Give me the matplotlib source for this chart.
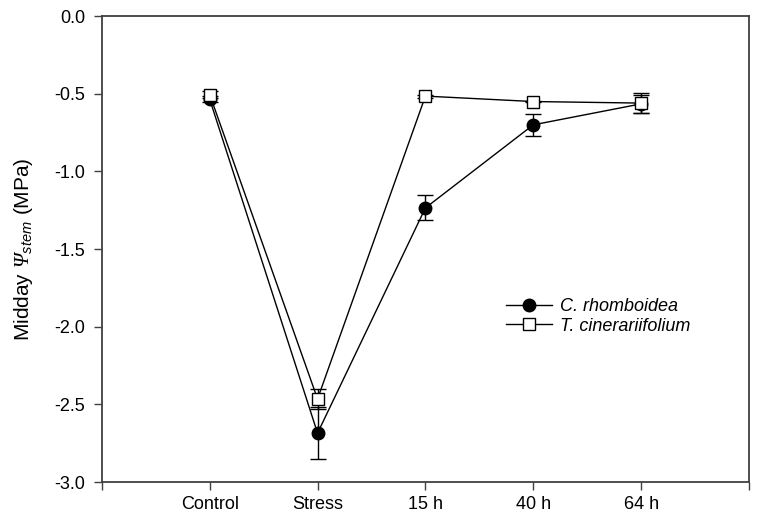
import matplotlib
matplotlib.use("Agg")
import matplotlib.pyplot as plt
from matplotlib.lines import Line2D

plt.rcParams["font.family"] = ["Liberation Sans", "DejaVu Sans"]
plt.rcParams["mathtext.fontset"] = "custom"
plt.rcParams["mathtext.rm"] = "Liberation Serif:italic"
plt.rcParams["mathtext.sf"] = "Liberation Sans:italic"

# data
categories = ["Control", "Stress", "15 h", "40 h", "64 h"]
positions = [1, 2, 3, 4, 5]

rhomb_mean = [-0.535, -2.685, -1.235, -0.70, -0.565]
rhomb_err = [0.02, 0.165, 0.08, 0.07, 0.06]

tcin_mean = [-0.505, -2.465, -0.515, -0.55, -0.56]
tcin_err = [0.025, 0.065, 0.01, 0.005, 0.065]

fig = plt.figure(figsize=(7.6, 5.2), dpi=100)
ax = fig.add_axes([0.134, 0.073, 0.8515, 0.896])

ax.errorbar(positions, rhomb_mean, yerr=rhomb_err, color="black", lw=1.0,
            marker="o", ms=9, mfc="black", mec="black", capsize=5.5,
            elinewidth=1.0, capthick=1.0, zorder=3)
ax.errorbar(positions, tcin_mean, yerr=tcin_err, color="black", lw=1.0,
            marker="s", ms=8, mfc="white", mec="black", mew=1.0,
            capsize=5.5, elinewidth=1.0, capthick=1.0, zorder=4)

ax.set_xlim(0, 6)
ax.set_ylim(-3.0, 0.0)
ax.set_xticks([0] + positions + [6])
ax.set_xticklabels([""] + categories + [""])
ax.set_yticks([0.0, -0.5, -1.0, -1.5, -2.0, -2.5, -3.0])
ax.set_yticklabels(["0.0", "-0.5", "-1.0", "-1.5", "-2.0", "-2.5", "-3.0"])
ax.tick_params(direction="out", length=6, width=1.0, labelsize=13,
               color="#404040", pad=6)
ax.tick_params(axis="x", pad=4)
for s in ax.spines.values():
    s.set_color("#404040")
    s.set_linewidth(1.3)

ax.set_ylabel(r"Midday $\Psi_{\mathsf{stem}}$ (MPa)", fontsize=15,
              labelpad=14)

handles = [
    Line2D([], [], color="black", lw=1.0, marker="o", ms=9, mfc="black"),
    Line2D([], [], color="black", lw=1.0, marker="s", ms=8, mfc="white"),
]
leg = ax.legend(handles, ["C. rhomboidea", "T. cinerariifolium"],
                loc="upper left", bbox_to_anchor=(0.6, 0.43), frameon=False,
                fontsize=13, handlelength=2.5, handletextpad=0.45,
                labelspacing=0.15)
for t in leg.get_texts():
    t.set_fontstyle("italic")

fig.savefig("out.png", dpi=100)
